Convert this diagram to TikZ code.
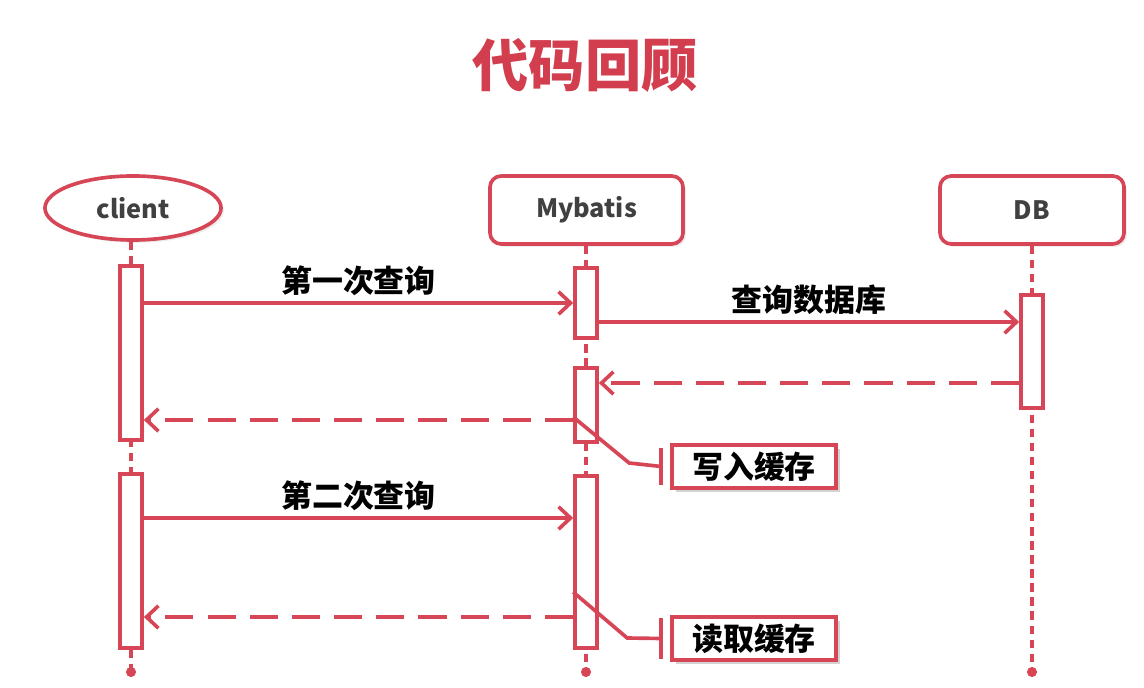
\documentclass[tikz,border=0pt]{standalone}
\usepackage{fontspec}
\setmainfont{Noto Sans CJK SC}
\usetikzlibrary{arrows.meta,shapes.geometric,shadows}
\definecolor{umlred}{RGB}{214,70,86}
\definecolor{titlered}{RGB}{210,62,78}
\definecolor{headtext}{RGB}{64,64,64}
\begin{document}
\begin{tikzpicture}[
    x=0.025cm, y=-0.025cm,
    kopf/.style={rectangle, draw=umlred, line width=2.6pt, rounded corners=8pt, fill=white, font=\fontsize{18}{20}\selectfont\bfseries, text=headtext, minimum height=1.7cm, drop shadow={opacity=0.15, shadow xshift=2pt, shadow yshift=-2pt}},
    aktiv/.style={rectangle, draw=umlred, line width=2.6pt, fill=white, minimum width=0.55cm, inner sep=0pt},
    lebenslinie/.style={umlred, line width=3pt, dash pattern=on 6pt off 4pt},
    nachricht/.style={umlred, line width=2.6pt, -{Straight Barb[length=8.5pt,width=16pt]}},
    antwort/.style={nachricht, dash pattern=on 20pt off 10pt},
    notiz/.style={rectangle, draw=umlred, line width=2.6pt, fill=white, text=black, font=\fontsize{22}{24}\selectfont\bfseries, minimum width=4.1cm, minimum height=1.075cm, drop shadow={opacity=0.35, shadow xshift=3pt, shadow yshift=-3pt}},
    notizlinie/.style={umlred, line width=2.6pt},
    beschriftung/.style={font=\fontsize{22}{24}\selectfont\bfseries, text=black, above, inner sep=4pt},
]
\useasboundingbox (0,0) rectangle (1144,688);

\node (titel) at (585,65) {\fontsize{40}{44}\selectfont\bfseries\color{titlered}代码回顾};

% Köpfe
\node (client) [ellipse, draw=umlred, line width=2.6pt, fill=white, minimum width=4.4cm, minimum height=1.6cm, inner sep=0pt, font=\fontsize{18}{20}\selectfont\bfseries, text=headtext, drop shadow={opacity=0.15, shadow xshift=2pt, shadow yshift=-2pt}] at (133,208) {client};
\node (mybatis) [kopf, minimum width=4.825cm] at (586.5,210) {Mybatis};
\node (db) [kopf, minimum width=4.6cm] at (1032,210) {DB};

% Lebenslinien
\coordinate (cende) at (131,672);
\coordinate (mende) at (586,672);
\coordinate (dende) at (1032,672);
\draw [lebenslinie] (client.south -| cende) -- (cende);
\draw [lebenslinie] (mybatis.south -| mende) -- (mende);
\draw [lebenslinie] (db.south) -- (dende);
\foreach \p in {cende, mende, dende}
  \fill [umlred] (\p) circle (3.6pt);

% Aktivierungen
\node (c1) [aktiv, minimum height=4.35cm] at (131,353) {};
\node (c2) [aktiv, minimum height=4.35cm] at (131,561) {};
\node (m1) [aktiv, minimum height=1.75cm] at (586,303) {};
\node (m2) [aktiv, minimum height=1.85cm] at (586,405) {};
\node (m3) [aktiv, minimum height=4.3cm] at (586,562) {};
\node (d1) [aktiv, minimum height=2.825cm] at (1032,351.5) {};

% Nachrichten
\draw [nachricht] (m1.west -| c1.east) -- node[beschriftung]{第一次查询} (m1.west);
\coordinate (q2) at ([yshift=-0.475cm]m1.east);
\draw [nachricht] (q2) -- node[beschriftung]{查询数据库} (q2 -| d1.west);
\coordinate (r1) at ([yshift=-0.7875cm]d1.west);
\draw [antwort] (r1) -- (r1 -| m2.east);
\coordinate (r2) at ([yshift=-0.375cm]m2.west);
\draw [antwort] (r2) -- (r2 -| c1.east);
\coordinate (q3) at ([yshift=1.075cm]c2.east);
\draw [nachricht] (q3) -- node[beschriftung]{第二次查询} (q3 -| m3.west);
\coordinate (r3) at ([yshift=-1.375cm]m3.west);
\draw [antwort] (r3) -- (r3 -| c2.east);

% Notizen
\node (n1) [notiz] at (754,466.5) {写入缓存};
\node (n2) [notiz] at (754,638.5) {读取缓存};
\draw [notizlinie] ([yshift=0.075cm]r2) -- ++(56,46) -- ([xshift=-0.225cm]n1.west);
\draw [notizlinie] ([xshift=-0.225cm,yshift=0.45cm]n1.west) -- ([xshift=-0.225cm,yshift=-0.45cm]n1.west);
\coordinate (s2) at ([yshift=-0.75cm]m3.west);
\draw [notizlinie] (s2) -- ++(54,46) -- ([xshift=-0.225cm]n2.west);
\draw [notizlinie] ([xshift=-0.225cm,yshift=0.5cm]n2.west) -- ([xshift=-0.225cm,yshift=-0.5cm]n2.west);

\end{tikzpicture}
\end{document}
